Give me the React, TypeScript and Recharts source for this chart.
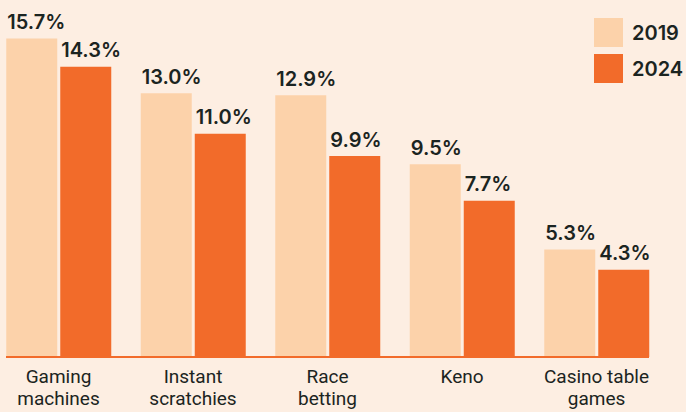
import { BarChart, Bar, XAxis, YAxis, LabelList, Legend } from "recharts"

// values (share of adults, %)
const categories = [
  ["Gaming", "machines"],
  ["Instant", "scratchies"],
  ["Race", "betting"],
  ["Keno"],
  ["Casino table", "games"],
]
const values2019 = [15.7, 13.0, 12.9, 9.5, 5.3]
const values2024 = [14.3, 11.0, 9.9, 7.7, 4.3]
const seriesNames = ["2019", "2024"]

const BG = "#FDEEE2"
const LIGHT = "#FCD2AA"
const ORANGE = "#F26B2A"
const INK = "#1B2421"
const LABEL_FONT = "Inter, 'Noto Sans', sans-serif"
const TICK_FONT = "Roboto, 'Liberation Sans', sans-serif"

const data = categories.map((lines, i) => ({
  name: lines.join(" "),
  v2019: values2019[i],
  v2024: values2024[i],
}))

function CategoryTick(props: any) {
  const { x, y, payload } = props
  const lines = categories[payload.index] || [payload.value]
  return (
    <text x={x} y={Number(y) + 20} textAnchor="middle" fill={INK} fontFamily={TICK_FONT} fontSize={19}>
      {lines.map((l, i) => (
        <tspan key={i} x={x} dy={i === 0 ? 0 : 22}>
          {l}
        </tspan>
      ))}
    </text>
  )
}

function ValueLabel(props: any) {
  const { x, y, value } = props
  return (
    <text
      x={Number(x) + 1}
      y={Number(y) - 9.5}
      fill={INK}
      fontFamily={LABEL_FONT}
      fontSize={20}
      fontWeight={600}
    >
      {value.toFixed(1)}%
    </text>
  )
}

function LegendBox() {
  const colors = [LIGHT, ORANGE]
  return (
    <div>
      {seriesNames.map((s, i) => (
        <div key={s} style={{ display: "flex", alignItems: "center", height: 29, marginBottom: i === 0 ? 7 : 0 }}>
          <div style={{ width: 29, height: 29, background: colors[i] }} />
          <span
            style={{
              marginLeft: 9,
              fontFamily: LABEL_FONT,
              fontSize: 20,
              fontWeight: 600,
              color: INK,
            }}
          >
            {s}
          </span>
        </div>
      ))}
    </div>
  )
}

export default function App() {
  return (
    <div style={{ position: "absolute", left: 0, top: 0, width: 686, height: 412, background: BG, overflow: "hidden" }}>
      <BarChart
        width={686}
        height={412}
        data={data}
        margin={{ top: 12, right: 37, left: 6, bottom: 0 }}
        barSize={51}
        barGap={3}
      >
        <XAxis
          dataKey="name"
          height={55}
          axisLine={{ stroke: ORANGE, strokeWidth: 2 }}
          tickLine={false}
          tick={<CategoryTick />}
          tickMargin={0}
          interval={0}
          padding={{ left: -14.75, right: -14.75 }}
        />
        <YAxis hide domain={[0, 17]} />
        <Legend
          layout="horizontal"
          verticalAlign="middle"
          align="center"
          content={<LegendBox />}
          wrapperStyle={{ position: "absolute", top: 18, left: 594, width: 92 }}
        />
        <Bar dataKey="v2019" name="2019" fill={LIGHT} isAnimationActive={false}>
          <LabelList dataKey="v2019" content={<ValueLabel />} />
        </Bar>
        <Bar dataKey="v2024" name="2024" fill={ORANGE} isAnimationActive={false}>
          <LabelList dataKey="v2024" content={<ValueLabel />} />
        </Bar>
      </BarChart>
    </div>
  )
}
